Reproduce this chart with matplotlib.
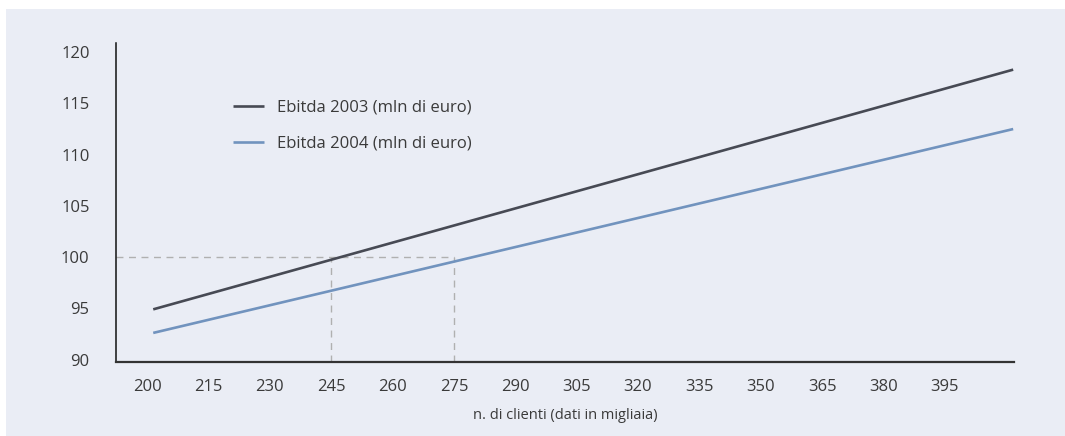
import matplotlib
matplotlib.use("Agg")
import matplotlib.pyplot as plt
from matplotlib.patches import Rectangle

# Data
clients_x = [201.5, 411.7]
ebitda_2003 = [94.9, 118.3]
ebitda_2004 = [92.6, 112.5]
x_ticks = [200, 215, 230, 245, 260, 275, 290, 305, 320, 335, 350, 365, 380, 395]
y_ticks = [90, 95, 100, 105, 110, 115, 120]
threshold = 100
break_even_2003 = 245
break_even_2004 = 275
labels = ["Ebitda 2003 (mln di euro)", "Ebitda 2004 (mln di euro)"]
x_label = "n. di clienti (dati in migliaia)"

plt.rcParams['font.family'] = ['Open Sans', 'DejaVu Sans']

W, H = 1065, 436
fig = plt.figure(figsize=(W / 100, H / 100), dpi=100, facecolor='white')
bg = '#eaedf5'
fig.patches.append(Rectangle((6 / W, 0), 1 - 6 / W, (H - 9) / H, transform=fig.transFigure,
                             facecolor=bg, edgecolor='none', zorder=-10))

ax = fig.add_axes([116 / W, (H - 362) / H, (1014 - 116) / W, (362 - 43) / H])
ax.set_facecolor('none')
xmin, xmax = 192.4, 411.9
ymin, ymax = 89.76, 120.9

c03 = '#474a54'
c04 = '#7193be'
ax.plot(clients_x, ebitda_2003, color=c03, lw=1.9, label=labels[0], solid_capstyle='butt')
ax.plot(clients_x, ebitda_2004, color=c04, lw=1.9, label=labels[1], solid_capstyle='butt')

dash_c = '#b0b0b0'
ax.plot([xmin, break_even_2004], [threshold, threshold],
        color=dash_c, lw=1.0, ls=(0, (5, 4)), zorder=1)
ax.plot([break_even_2003, break_even_2003], [ymin, threshold], color=dash_c, lw=1.0, ls=(0, (5, 4)), zorder=1)
ax.plot([break_even_2004, break_even_2004], [ymin, threshold], color=dash_c, lw=1.0, ls=(0, (5, 4)), zorder=1)

ax.set_xlim(xmin, xmax)
ax.set_ylim(ymin, ymax)
ax.set_xticks(x_ticks)
ax.set_yticks(y_ticks)
ax.tick_params(axis='both', length=0, labelsize=12, labelcolor='#3a3a3a')
ax.tick_params(axis='y', pad=19)
ax.tick_params(axis='x', pad=12.5)

for s in ['top', 'right']:
    ax.spines[s].set_visible(False)
ax.spines['left'].set_color('#111111')
ax.spines['left'].set_linewidth(1.1)
ax.spines['bottom'].set_color('#333333')
ax.spines['bottom'].set_linewidth(1.6)

ax.set_xlabel(x_label, fontsize=10.5, color='#3a3a3a', labelpad=9)

leg = ax.legend(loc='upper left', bbox_to_anchor=((226 - 116) / (1014 - 116), 1 - (93 - 43) / (362 - 43)),
                frameon=False, fontsize=12, handlelength=1.9, handletextpad=0.75, labelspacing=1.2,
                borderaxespad=0)
for t in leg.get_texts():
    t.set_color('#3a3a3a')

fig.savefig('out.png', dpi=100, facecolor='white')
